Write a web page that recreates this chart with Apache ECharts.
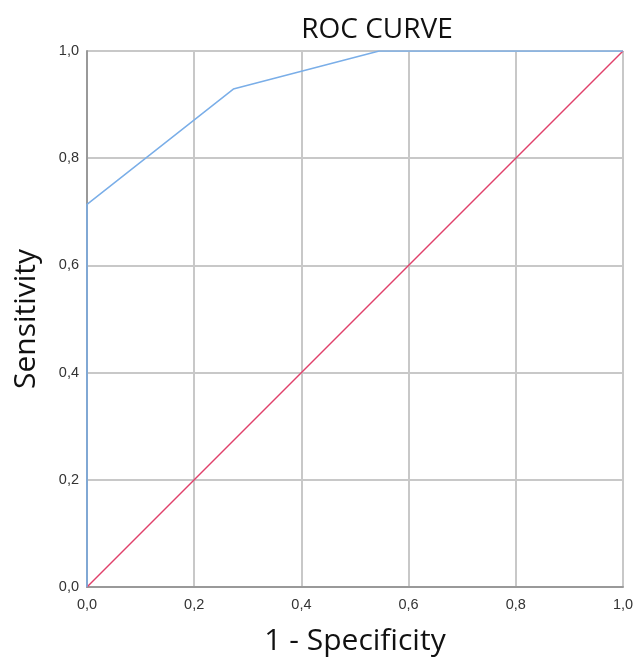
<!DOCTYPE html>
<html><head><meta charset="utf-8">
<script src="https://cdn.jsdelivr.net/npm/echarts@6/dist/echarts.min.js"></script>
<style>html,body{margin:0;padding:0;background:#fff}#c{width:635px;height:659px}</style>
</head><body><div id="c"></div>
<script>
const rocX = [0, 0, 0.273, 0.545, 1];
const rocY = [0, 0.714, 0.929, 1, 1];
const refX = [0, 1];
const refY = [0, 1];
const tickValues = [0, 0.2, 0.4, 0.6, 0.8, 1.0];
const fmt = v => v.toFixed(1).replace('.', ',');
const chart = echarts.init(document.getElementById('c'));
chart.setOption({
  backgroundColor: '#fff',
  animation: false,
  title: { text: 'ROC CURVE', left: 372, top: 11, textAlign: 'center',
    textStyle: { fontFamily: 'Open Sans', fontSize: 28, fontWeight: 'normal', color: '#111' } },
  grid: { left: 87, right: 12, top: 51, bottom: 72, containLabel: false, outerBoundsMode: 'none' },
  xAxis: { type: 'value', min: 0, max: 1, interval: 0.2,
    name: '1 - Specificity', nameLocation: 'middle', nameGap: 39,
    nameTextStyle: { fontFamily: 'Open Sans', fontSize: 30, color: '#111' },
    axisLine: { show: true, lineStyle: { color: '#999', width: 2 } },
    axisTick: { show: false },
    axisLabel: { formatter: fmt, color: '#333', fontSize: 14.5, fontFamily: 'Liberation Sans', margin: 10 },
    splitLine: { show: true, lineStyle: { color: '#c8c8c8', width: 2 } } },
  yAxis: { type: 'value', min: 0, max: 1, interval: 0.2,
    name: 'Sensitivity', nameLocation: 'middle', nameGap: 46,
    nameTextStyle: { fontFamily: 'Open Sans', fontSize: 30, color: '#111' },
    axisLine: { show: true, lineStyle: { color: '#999', width: 2 } },
    axisTick: { show: false },
    axisLabel: { formatter: fmt, color: '#333', fontSize: 14.5, fontFamily: 'Liberation Sans', margin: 8 },
    splitLine: { show: true, lineStyle: { color: '#c8c8c8', width: 2 } } },
  series: [
    { type: 'line', data: refX.map((x, i) => [x, refY[i]]), symbol: 'none',
      lineStyle: { color: '#e0406a', width: 1.5 } },
    { type: 'line', data: rocX.map((x, i) => [x, rocY[i]]), symbol: 'none',
      lineStyle: { color: '#7aaee8', width: 1.5 } }
  ]
});
</script></body></html>
